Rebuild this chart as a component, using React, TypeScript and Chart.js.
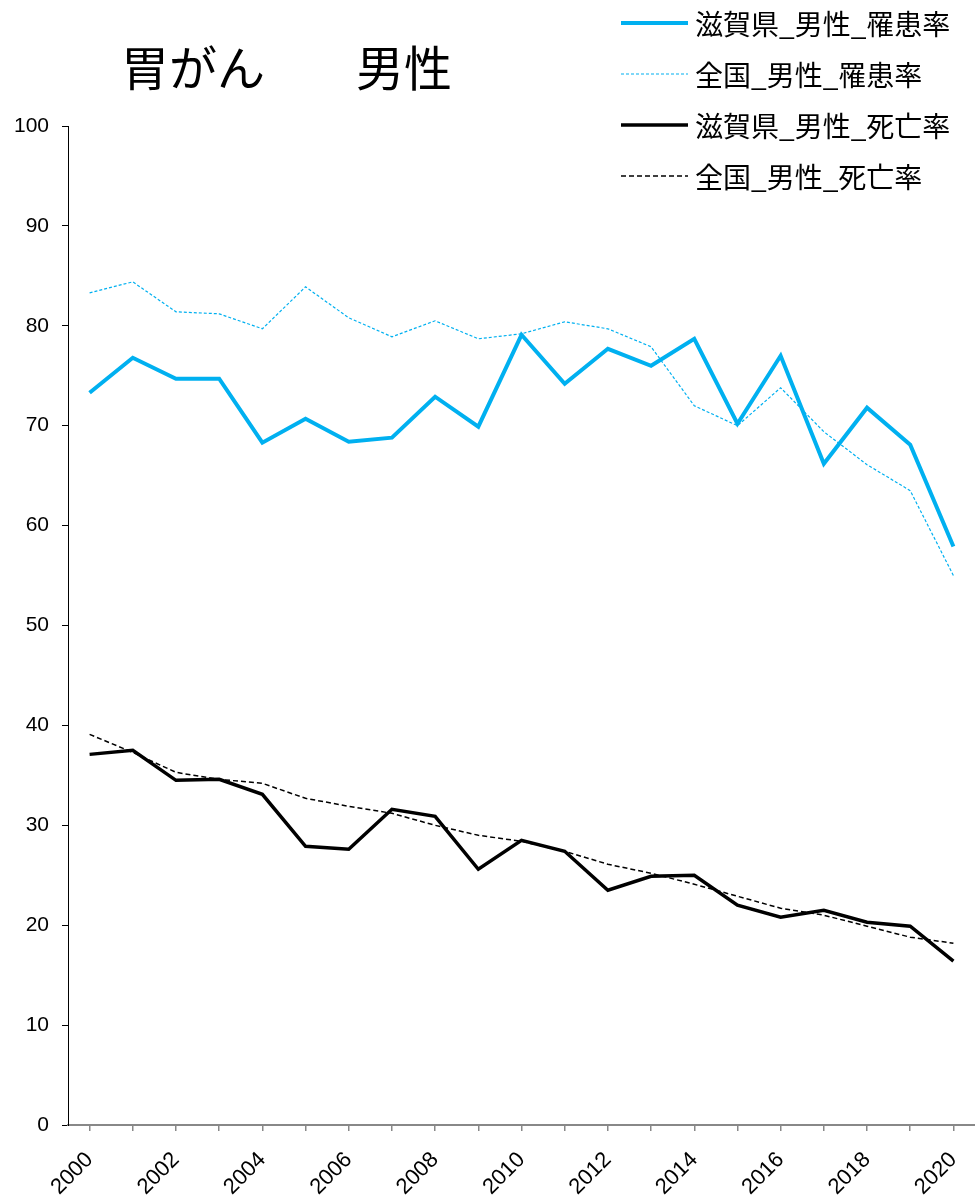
import React, { useEffect, useRef } from "react";
import { Chart, registerables } from "chart.js";

Chart.register(...registerables);

const years = ["2000","2001","2002","2003","2004","2005","2006","2007","2008","2009","2010","2011","2012","2013","2014","2015","2016","2017","2018","2019","2020"];
const shigaIncidence = [73.3,76.8,74.7,74.7,68.3,70.7,68.4,68.8,72.9,69.9,79.1,74.2,77.7,76.0,78.7,70.2,77.0,66.2,71.8,68.1,57.9];
const japanIncidence = [83.3,84.4,81.4,81.2,79.7,83.9,80.8,78.9,80.5,78.7,79.2,80.4,79.7,77.9,72.0,70.0,73.8,69.4,66.1,63.5,55.0];
const shigaMortality = [37.1,37.5,34.5,34.6,33.1,27.9,27.6,31.6,30.9,25.6,28.5,27.4,23.5,24.9,25.0,22.0,20.8,21.5,20.3,19.9,16.4];
const japanMortality = [39.1,37.3,35.3,34.6,34.2,32.7,31.9,31.2,30.0,29.0,28.4,27.4,26.1,25.2,24.1,22.9,21.7,21.0,19.9,18.8,18.2];
const seriesNames = ["滋賀県_男性_罹患率","全国_男性_罹患率","滋賀県_男性_死亡率","全国_男性_死亡率"];
const titleParts = ["胃がん", "男性"];

const BLUE = "#00B0F0";
const JP_FONT = '"Noto Sans CJK JP", "Noto Sans", sans-serif';
const NUM_FONT = '"Liberation Sans", Arial, sans-serif';

const overlayPlugin = {
  id: "overlay",
  afterDraw(chart: any) {
    const ctx = chart.ctx;
    ctx.save();
    // title
    ctx.fillStyle = "#000";
    ctx.font = `48px ${JP_FONT}`;
    ctx.textAlign = "left";
    ctx.textBaseline = "alphabetic";
    ctx.fillText(titleParts[0], 121, 86);
    ctx.fillText(titleParts[1], 356, 86);
    // legend
    const ds = chart.data.datasets;
    const rowY = [23, 74, 125, 176];
    ds.forEach((d: any, i: number) => {
      const y = rowY[i];
      ctx.beginPath();
      ctx.strokeStyle = d.borderColor;
      ctx.lineWidth = d.borderWidth;
      ctx.setLineDash(d.borderDash || []);
      ctx.moveTo(621, y);
      ctx.lineTo(688, y);
      ctx.stroke();
      ctx.setLineDash([]);
      ctx.fillStyle = "#000";
      ctx.font = `28px ${JP_FONT}`;
      ctx.textBaseline = "middle";
      ctx.fillText(d.label, 695, y + 1);
    });
    ctx.restore();
  },
};

export default function App() {
  const ref = useRef<HTMLCanvasElement>(null);
  useEffect(() => {
    document.body.style.margin = "0";
    const chart = new Chart(ref.current!, {
      type: "line",
      data: {
        labels: years,
        datasets: [
          { label: seriesNames[0], data: shigaIncidence, borderColor: BLUE, backgroundColor: BLUE, borderWidth: 4, pointRadius: 0, tension: 0 },
          { label: seriesNames[1], data: japanIncidence, borderColor: BLUE, backgroundColor: BLUE, borderWidth: 1.2, borderDash: [3, 2], pointRadius: 0, tension: 0 },
          { label: seriesNames[2], data: shigaMortality, borderColor: "#000", backgroundColor: "#000", borderWidth: 3.5, pointRadius: 0, tension: 0 },
          { label: seriesNames[3], data: japanMortality, borderColor: "#000", backgroundColor: "#000", borderWidth: 1.5, borderDash: [5, 3], pointRadius: 0, tension: 0 },
        ],
      },
      options: {
        animation: false,
        responsive: false,
        maintainAspectRatio: false,
        layout: { padding: { top: 126, right: 0, left: 0, bottom: 0 } },
        plugins: { legend: { display: false }, title: { display: false }, tooltip: { enabled: false } },
        scales: {
          x: {
            type: "category",
            offset: true,
            grid: { drawOnChartArea: false, offset: false, tickLength: 6, color: "#888", lineWidth: 1.5 },
            border: { color: "#888", width: 2 },
            ticks: {
              autoSkip: false,
              maxRotation: 45,
              minRotation: 45,
              padding: 16,
              color: "#000",
              font: { family: NUM_FONT, size: 22 },
              callback: (v: any, i: number) => (i % 2 === 0 ? years[i] : ""),
            },
            afterFit: (s: any) => { s.height = 73; s.paddingRight = 0; s.paddingLeft = 0; },
          },
          y: {
            min: 0,
            max: 100,
            ticks: { stepSize: 10, color: "#000", padding: 13, font: { family: NUM_FONT, size: 21 } },
            grid: { drawOnChartArea: false, tickLength: 6, color: "#000" },
            border: { color: "#000", width: 1 },
            afterFit: (s: any) => { s.width = 68; s.paddingTop = 0; s.paddingBottom = 0; },
          },
        },
      },
      plugins: [overlayPlugin],
    });
    return () => chart.destroy();
  }, []);
  return <canvas ref={ref} width={975} height={1198} style={{ display: "block" }} />;
}
